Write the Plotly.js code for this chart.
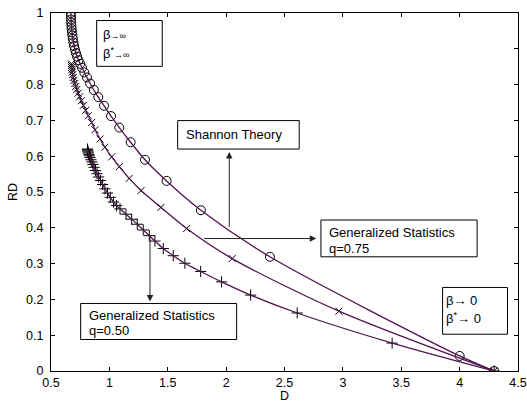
<!DOCTYPE html>
<html>
<head>
<meta charset="utf-8">
<script src="https://cdn.plot.ly/plotly-3.0.1.min.js"></script>
<style>
html,body{margin:0;padding:0;background:#fff;}
#chart{width:527px;height:403px;}
</style>
</head>
<body>
<div id="chart"></div>
<script>
// Shannon theory (circles)
const shannonD  = [0.670,0.671,0.672,0.673,0.675,0.677,0.680,0.683,0.687,0.692,0.698,0.705,0.714,0.724,0.736,0.750,0.766,0.785,0.808,0.835,0.867,0.905,0.954,1.014,1.085,1.182,1.305,1.490,1.784,2.375,4.000,4.296];
const shannonRD = [1.000,0.991,0.982,0.973,0.964,0.955,0.946,0.937,0.928,0.918,0.908,0.898,0.888,0.878,0.868,0.858,0.847,0.834,0.820,0.803,0.785,0.765,0.741,0.712,0.680,0.639,0.590,0.531,0.449,0.319,0.042,0.000];

// Generalized statistics q=0.75 (x markers)
const q75D  = [0.675,0.676,0.677,0.679,0.682,0.686,0.691,0.697,0.704,0.712,0.721,0.732,0.745,0.760,0.777,0.797,0.820,0.848,0.877,0.920,0.962,1.020,1.085,1.170,1.271,1.442,1.662,2.052,2.966,4.296];
const q75RD = [0.858,0.853,0.848,0.842,0.835,0.828,0.820,0.812,0.803,0.795,0.786,0.776,0.766,0.755,0.742,0.728,0.713,0.694,0.674,0.648,0.625,0.598,0.571,0.538,0.504,0.457,0.398,0.314,0.167,0.000];

// Generalized statistics q=0.50 (+ markers)
const q50D  = [0.812,0.813,0.815,0.817,0.820,0.824,0.829,0.835,0.842,0.850,0.859,0.869,0.881,0.894,0.908,0.924,0.942,0.962,0.984,1.008,1.035,1.062,1.091,1.142,1.191,1.239,1.290,1.342,1.390,1.462,1.547,1.647,1.782,1.961,2.210,2.609,3.422,4.296];
const q50RD = [0.620,0.618,0.615,0.612,0.609,0.605,0.601,0.596,0.590,0.584,0.577,0.569,0.560,0.551,0.542,0.532,0.521,0.509,0.497,0.485,0.472,0.462,0.453,0.438,0.424,0.410,0.394,0.378,0.363,0.342,0.322,0.301,0.278,0.249,0.212,0.162,0.078,0.000];

const xTicks = [0.5,1,1.5,2,2.5,3,3.5,4,4.5];
const xTickText = ['0.5','1','1.5','2','2.5','3','3.5','4','4.5'];
const yTicks = [0,0.1,0.2,0.3,0.4,0.5,0.6,0.7,0.8,0.9,1];
const yTickText = ['0','0.1','0.2','0.3','0.4','0.5','0.6','0.7','0.8','0.9','1'];

const lineColor = '#4f1450';
const FONT = 'Liberation Sans, Arial, Helvetica, sans-serif';

function markerTrace(x, y, symbol, size){
  return {x:x, y:y, type:'scatter', mode:'markers', hoverinfo:'skip',
    marker:{symbol:symbol, size:size, color:'black', line:{color:'black', width:1}}};
}
function lineTrace(x, y){
  return {x:x, y:y, type:'scatter', mode:'lines', hoverinfo:'skip',
    line:{color:lineColor, width:1.3, shape:'spline', smoothing:0.8}};
}

const data = [
  markerTrace(shannonD, shannonRD, 'circle-open', 9),
  markerTrace(q75D, q75RD, 'x-thin-open', 7),
  markerTrace(q50D, q50RD, 'cross-thin-open', 8),
  lineTrace(shannonD, shannonRD),
  lineTrace(q75D, q75RD),
  lineTrace(q50D, q50RD)
];

function box(x0,x1,y0,y1){
  return {type:'rect', xref:'x', yref:'y', x0:x0, x1:x1, y0:y0, y1:y1,
    line:{color:'black', width:1}, fillcolor:'white', layer:'above'};
}
function label(x, y, text){
  return {x:x, y:y, xref:'x', yref:'y', text:text, showarrow:false,
    xanchor:'left', yanchor:'middle', align:'left',
    font:{family:FONT, size:13, color:'black'}};
}
function arrow(x, y, ax, ay){
  return {x:x, y:y, ax:ax, ay:ay, xref:'x', yref:'y', axref:'x', ayref:'y',
    text:'', showarrow:true, arrowhead:2, arrowsize:1.3, arrowwidth:1, arrowcolor:'#222'};
}

const small = (s) => '<span style="font-size:9px">' + s + '</span>';

const layout = {
  width:527, height:403,
  margin:{l:51, r:9, t:13, b:32, pad:0},
  paper_bgcolor:'white', plot_bgcolor:'white',
  showlegend:false,
  font:{family:FONT, size:12.5, color:'black'},
  xaxis:{range:[0.5,4.5], tickvals:xTicks, ticktext:xTickText, ticks:'inside', ticklen:4,
    tickcolor:'black', showline:true, linecolor:'black', linewidth:1, mirror:'ticks',
    showgrid:false, zeroline:false, automargin:false, ticklabelstandoff:0,
    title:{text:'D', standoff:3, font:{family:FONT, size:12.5}}},
  yaxis:{range:[0,1], tickvals:yTicks, ticktext:yTickText, ticks:'inside', ticklen:4,
    tickcolor:'black', showline:true, linecolor:'black', linewidth:1, mirror:'ticks',
    showgrid:false, zeroline:false, automargin:false, ticklabelstandoff:4,
    title:{text:'RD', standoff:5, font:{family:FONT, size:12.5}}},
  shapes:[
    box(0.891,1.453,0.851,0.979),
    box(1.585,2.626,0.620,0.6995),
    box(2.812,4.150,0.319,0.4217),
    box(0.754,2.090,0.0879,0.1886),
    box(3.854,4.410,0.1027,0.2334)
  ],
  annotations:[
    label(0.925, 0.939, 'β' + small('→∞')),
    label(0.925, 0.888, 'β<sup>*</sup>' + small('→∞')),
    label(1.640, 0.661, 'Shannon Theory'),
    label(2.865, 0.386, 'Generalized Statistics'),
    label(2.865, 0.3425, 'q=0.75'),
    label(0.805, 0.154, 'Generalized Statistics'),
    label(0.805, 0.114, 'q=0.50'),
    label(3.870, 0.198, 'β→ 0'),
    label(3.870, 0.147, 'β<sup>*</sup>→ 0'),
    arrow(2.027, 0.612, 2.027, 0.398),
    arrow(2.772, 0.370, 1.799, 0.370),
    arrow(1.348, 0.194, 1.348, 0.377)
  ]
};

Plotly.newPlot('chart', data, layout, {staticPlot:true, displayModeBar:false});
</script>
</body>
</html>
